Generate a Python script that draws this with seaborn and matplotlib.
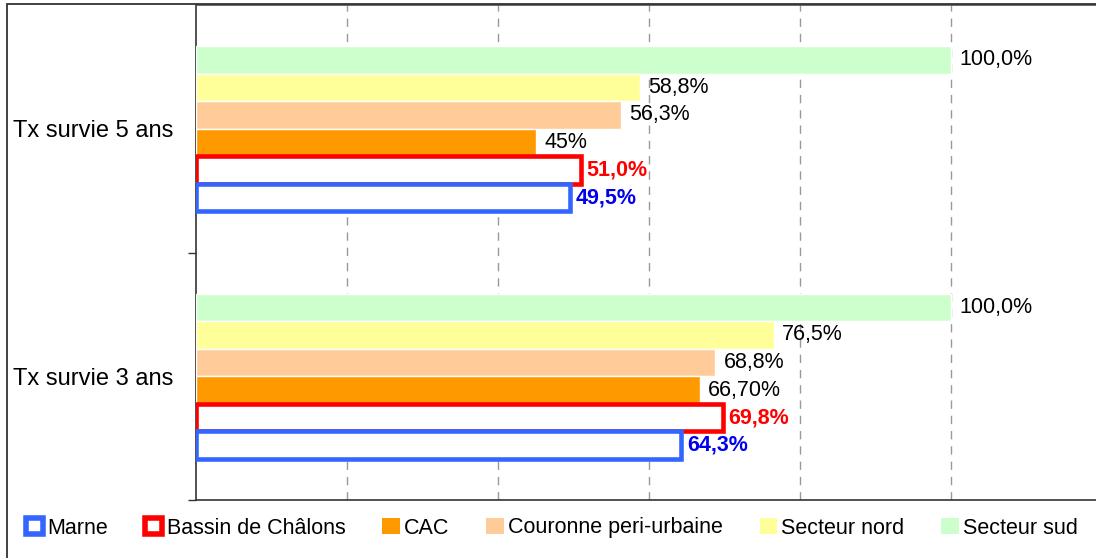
import pandas as pd
import seaborn as sns
import matplotlib.pyplot as plt
from matplotlib.patches import Patch, Rectangle

# Data
categories = ["Tx survie 5 ans", "Tx survie 3 ans"]
zones = ["Secteur sud", "Secteur nord", "Couronne peri-urbaine", "CAC",
         "Bassin de Châlons", "Marne"]
values_5 = [100.0, 58.8, 56.3, 45.0, 51.0, 49.5]
values_3 = [100.0, 76.5, 68.8, 66.7, 69.8, 64.3]
labels_5 = ["100,0%", "58,8%", "56,3%", "45%", "51,0%", "49,5%"]
labels_3 = ["100,0%", "76,5%", "68,8%", "66,70%", "69,8%", "64,3%"]
legend_order = ["Marne", "Bassin de Châlons", "CAC", "Couronne peri-urbaine",
                "Secteur nord", "Secteur sud"]

colors = {"Secteur sud": "#CCFFCC", "Secteur nord": "#FFFF99",
          "Couronne peri-urbaine": "#FFCC99", "CAC": "#FF9900",
          "Bassin de Châlons": "#FF0000", "Marne": "#3366FF"}
outlined = {"Bassin de Châlons": "#FF0000", "Marne": "#3366FF"}
label_colors = {"Bassin de Châlons": "#FF0000", "Marne": "#0000EE"}

df = pd.DataFrame({
    "categorie": [categories[0]] * len(zones) + [categories[1]] * len(zones),
    "zone": zones + zones,
    "valeur": values_5 + values_3,
})
label_map = {categories[0]: labels_5, categories[1]: labels_3}

sns.set_theme(style="white", rc={"text.color": "black", "ytick.color": "black",
                                 "axes.labelcolor": "black"})
plt.rcParams["font.family"] = ["Liberation Sans", "DejaVu Sans"]

fig = plt.figure(figsize=(10.96, 5.58), dpi=100)
ax = fig.add_axes([196 / 1096, 1 - 500 / 558, 906 / 1096, 495 / 558])

sns.barplot(data=df, y="categorie", x="valeur", hue="zone", hue_order=zones,
            order=categories, palette=colors, orient="h", width=0.667,
            gap=0, saturation=1, legend=False, ax=ax, errorbar=None)

# Style the two outlined series and add value labels
for zone, container in zip(zones, ax.containers):
    for i, bar in enumerate(container):
        if zone in outlined:
            bar.set_facecolor("white")
            bar.set_edgecolor(outlined[zone])
            bar.set_linewidth(3.3)
            bar.set_joinstyle("miter")
        bar.set_zorder(3)
        txt = label_map[categories[i]][zones.index(zone)]
        y = bar.get_y() + bar.get_height() / 2
        x = bar.get_width()
        if zone in outlined:
            ax.annotate(txt, (x, y), xytext=(4, 0), textcoords="offset points",
                        va="center", ha="left", fontsize=15.5, fontweight="bold",
                        color=label_colors[zone], zorder=4)
        else:
            ax.annotate(txt, (x, y), xytext=(6, 0), textcoords="offset points",
                        va="center", ha="left", fontsize=15.5, color="black",
                        zorder=4)

ax.set_xlim(0, 120)
ax.set_ylim(1.5, -0.5)
ax.set_xticks([20, 40, 60, 80, 100])
ax.set_xticklabels([])
ax.tick_params(axis="x", length=0)
ax.grid(axis="x", linestyle=(0, (6, 5)), color="#999999", linewidth=1)
ax.set_xlabel("")
ax.set_ylabel("")

ax.set_yticks([0, 1])
ax.set_yticklabels(categories, fontsize=17, color="black")
ax.set_yticks([0.5, 1.5], minor=True)
ax.tick_params(axis="y", which="major", length=0, pad=16)
ax.tick_params(axis="y", which="minor", length=6, width=1, color="#333333",
               direction="out", left=True)

for side in ["left", "bottom"]:
    ax.spines[side].set_color("#333333")
    ax.spines[side].set_linewidth(1.2)
ax.spines["top"].set_color("#555555")
ax.spines["right"].set_visible(False)

# Outer chart frame, partly cut off by the picture edges
fig.patches.append(Rectangle((7 / 1096, -0.2), 1.2, 1.2 - 5 / 558 + 0.001,
                             transform=fig.transFigure, fill=False,
                             edgecolor="#333333", linewidth=1.3))

handles = []
for zone in legend_order:
    if zone in outlined:
        handles.append(Patch(facecolor="white", edgecolor=outlined[zone],
                             linewidth=4))
    else:
        handles.append(Patch(facecolor=colors[zone], edgecolor="none"))
fig.legend(handles, legend_order, loc="center left",
           bbox_to_anchor=(15 / 1096, 1 - 528 / 558), ncol=6, frameon=False,
           fontsize=15.5, handlelength=0.8, handleheight=0.8,
           handletextpad=0.2, columnspacing=1.72, borderpad=0)

fig.savefig("out.png", dpi=100)
